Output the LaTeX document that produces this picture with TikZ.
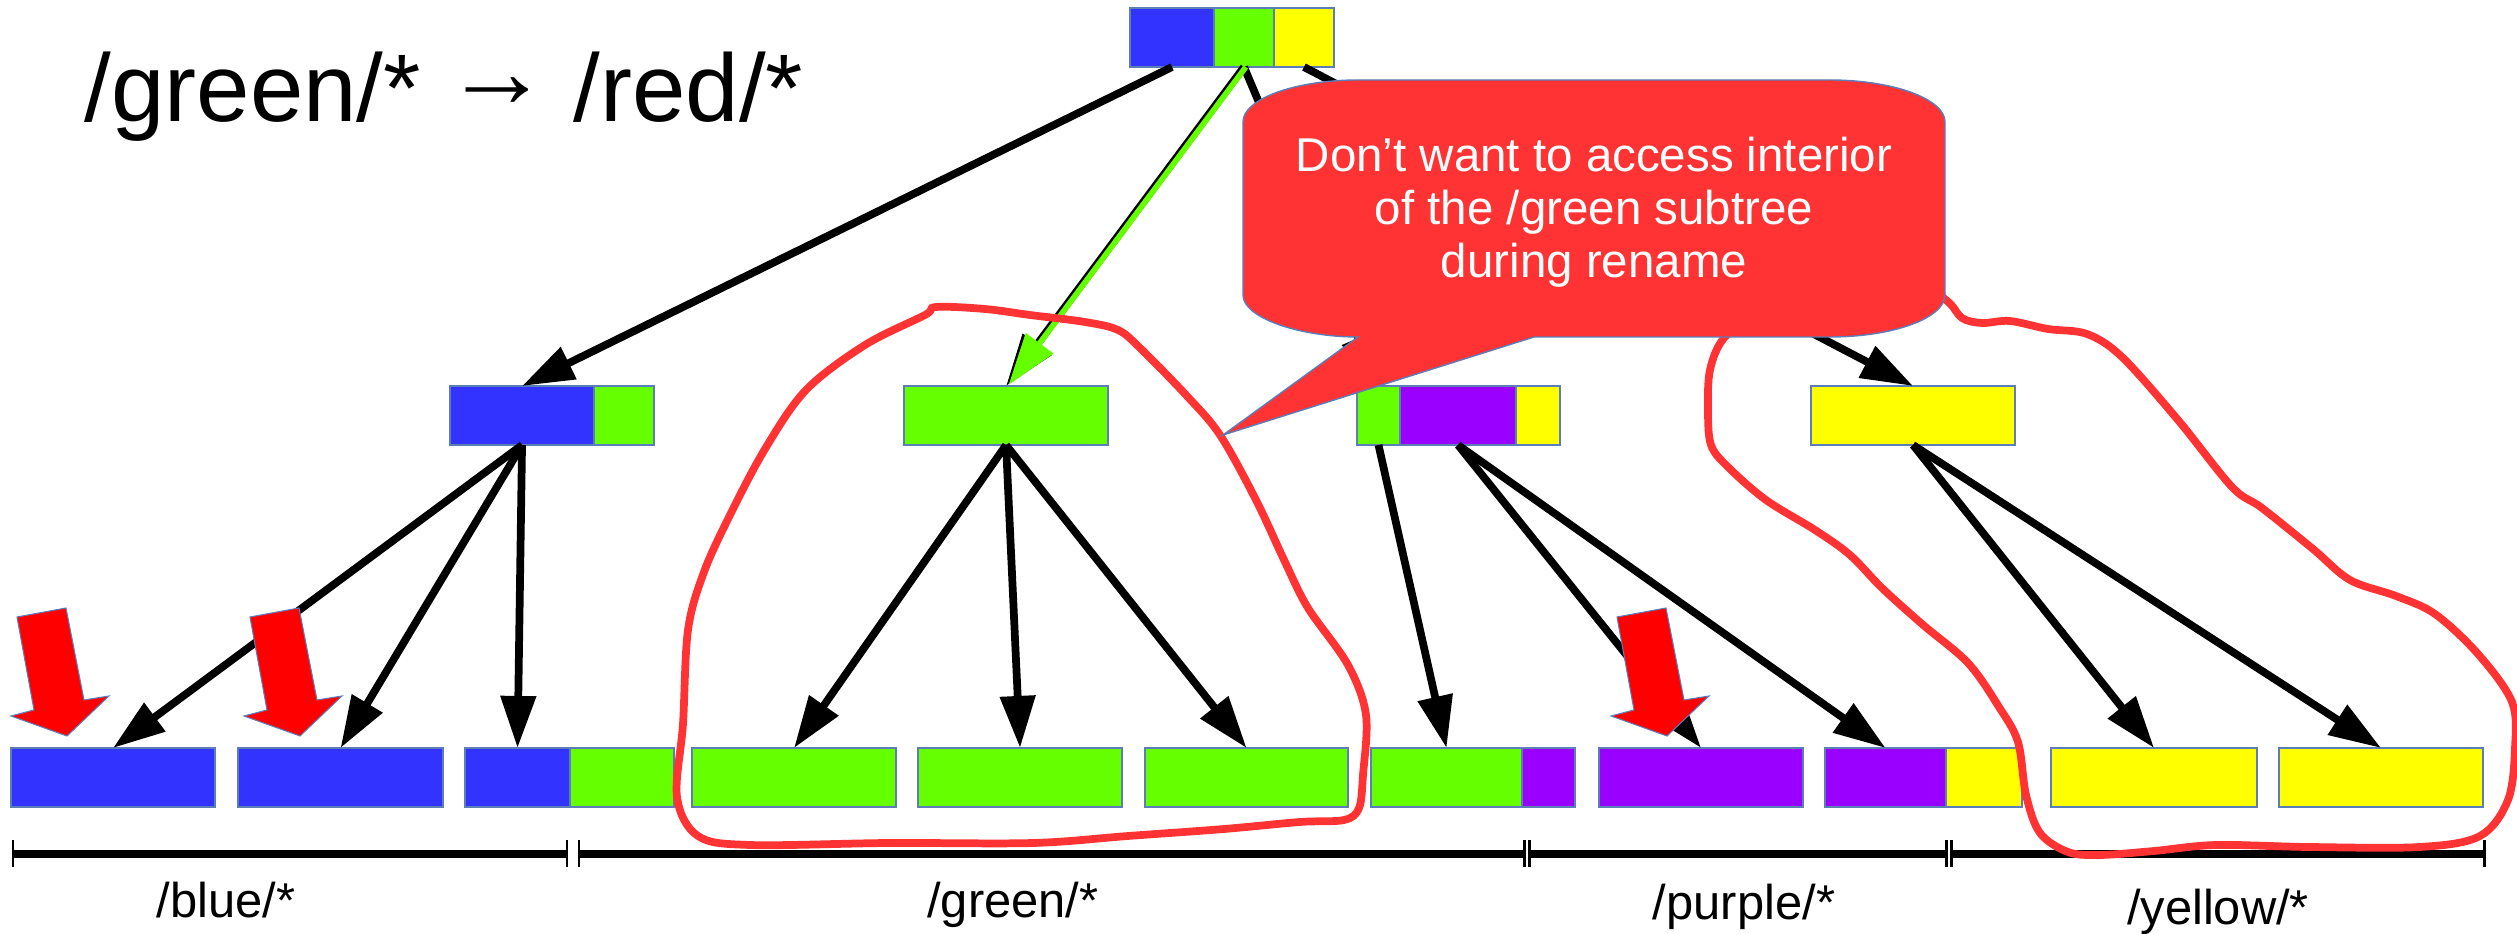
\documentclass[tikz,border=0pt]{standalone}
\usepackage{fontspec}
\setmainfont{Liberation Sans}
\usetikzlibrary{arrows.meta}

\definecolor{nblue}{HTML}{3333FF}
\definecolor{ngreen}{HTML}{66FF00}
\definecolor{nyellow}{HTML}{FFFF00}
\definecolor{npurple}{HTML}{9900FF}
\definecolor{calloutred}{HTML}{FF3333}
\definecolor{blockred}{HTML}{FF0000}
\definecolor{edge}{HTML}{5B7DB8}

% one coloured block of a node: name, colour, left x, right x, top y
\newcommand\segnode[5]{%
  \node[segbox, fill=#2, minimum width={(#4-#3)*0.284528pt}, anchor=north west] (#1) at (#3,#5) {};}

% dimension line with end ticks: left x, right x
\newcommand\rangeline[2]{%
  \draw[rangebar] (#1,854) -- (#2,854);
  \draw[rangetick] (#1,840) -- (#1,867);
  \draw[rangetick] (#2,840) -- (#2,867);}

\begin{document}
\begin{tikzpicture}[x=0.01cm, y=-0.01cm,
  segbox/.style={draw=edge, line width=0.4pt, inner sep=0pt, outer sep=0pt, minimum height=16.79pt},
  conn/.style={draw=black, line width=2.2pt, -{Triangle[length=14.8pt, width=9.7pt]}},
  greenconn/.style={draw=ngreen, line width=1.6pt, -{Triangle[length=14.8pt, width=9.4pt, fill=ngreen]}},
  outline/.style={draw=calloutred, line width=2.2pt},
  blockarrow/.style={fill=blockred, draw=edge, line width=0.3pt, line join=miter},
  rangebar/.style={line width=2.2pt},
  rangetick/.style={line width=0.85pt},
  lbl/.style={inner sep=0pt, anchor=base, font=\fontsize{13.9pt}{16pt}\selectfont},
  calltext/.style={inner sep=0pt, anchor=base, text=white, font=\fontsize{13.5pt}{15pt}\selectfont}]

\useasboundingbox (0,0) rectangle (2517,934);

% title
\node[inner sep=0pt, anchor=base west, font=\fontsize{27.3pt}{32pt}\selectfont] (title) at (84,122) {/green/*};
\node[inner sep=0pt, font=\fontsize{30pt}{34pt}\selectfont] (titlearrow) at (497,93) {→};
\node[inner sep=0pt, anchor=base west, font=\fontsize{27.3pt}{32pt}\selectfont] (titleright) at (573,122) {/red/*};

% root
\segnode{root-b}{nblue}{1130}{1214}{8}
\segnode{root-g}{ngreen}{1214}{1274}{8}
\segnode{root-y}{nyellow}{1274}{1334}{8}

% second level
\segnode{A-b}{nblue}{450}{594}{386}
\segnode{A-g}{ngreen}{594}{654}{386}
\segnode{B}{ngreen}{904}{1108}{386}
\segnode{C-g}{ngreen}{1357}{1400}{386}
\segnode{C-p}{npurple}{1400}{1516}{386}
\segnode{C-y}{nyellow}{1516}{1560}{386}
\segnode{D}{nyellow}{1811}{2015}{386}

% leaves
\segnode{L1}{nblue}{11}{215}{748}
\segnode{L2}{nblue}{238}{443}{748}
\segnode{L3-b}{nblue}{465}{570}{748}
\segnode{L3-g}{ngreen}{570}{674}{748}
\segnode{L4}{ngreen}{692}{896}{748}
\segnode{L5}{ngreen}{918}{1122}{748}
\segnode{L6}{ngreen}{1145}{1348}{748}
\segnode{L7-g}{ngreen}{1371}{1522}{748}
\segnode{L7-p}{npurple}{1522}{1575}{748}
\segnode{L8}{npurple}{1599}{1803}{748}
\segnode{L9-p}{npurple}{1825}{1946}{748}
\segnode{L9-y}{nyellow}{1946}{2022}{748}
\segnode{L10}{nyellow}{2051}{2257}{748}
\segnode{L11}{nyellow}{2279}{2483}{748}

% child pointers
\draw[conn] (root-b.south) -- (A-b.north);
\draw[conn] (root-g.south) -- (B.north);
\draw[conn] (root-g.south) -- (C-g.north);
\draw[conn] (root-y.south) -- (D.north);
\draw[greenconn] ([xshift=0.5pt]root-g.south) -- ([xshift=0.7pt,yshift=0.3pt]B.north);

\draw[conn] (A-b.south) -- (L1.north);
\draw[conn] (A-b.south) -- (L2.north);
\draw[conn] (A-b.south) -- (L3-b.north);

\draw[conn] (B.south) -- (L4.north);
\draw[conn] (B.south) -- (L5.north);
\draw[conn] (B.south) -- (L6.north);

\draw[conn] (C-g.south) -- (L7-g.north);
\draw[conn] (C-p.south) -- (L8.north);
\draw[conn] (C-p.south) -- (L9-p.north);

\draw[conn] (D.south) -- (L10.north);
\draw[conn] (D.south) -- (L11.north);

% key ranges
\rangeline{13}{567}
\rangeline{579}{1524}
\rangeline{1529}{1946}
\rangeline{1951}{2484}

\node[lbl] (lblblue) at (226,918) {/blue/*};
\node[lbl] (lblgreen) at (1013,918) {/green/*};
\node[lbl] (lblpurple) at (1744,920) {/purple/*};
\node[lbl] (lblyellow) at (2218,925) {/yellow/*};

% hand-drawn outlines around the /green and /yellow subtrees
\draw[outline] plot[smooth cycle, tension=0.55] coordinates {
  (936,307) (985,309) (1030,315) (1085,322) (1118,330) (1140,348) (1186,395)
  (1220,435) (1256,500) (1285,562) (1308,608) (1348,665) (1366,715) (1363,775)
  (1359,808) (1344,820) (1300,822) (1224,829) (1128,836) (1033,843) (889,843)
  (750,845) (698,836) (677,797) (683,724) (688,630) (704,572) (730,515)
  (765,449) (806,390) (865,345) (925,315)};

\draw[outline] plot[smooth cycle, tension=0.55] coordinates {
  (1760,310) (1724,338) (1710,370) (1708,410) (1711,445) (1728,467) (1766,500)
  (1815,530) (1850,555) (1882,588) (1922,624) (1968,663) (1999,707) (2018,742)
  (2026,795) (2040,833) (2068,852) (2100,855) (2154,851) (2216,845) (2309,847)
  (2420,847) (2480,836) (2508,800) (2515,748) (2512,702) (2478,654) (2435,614)
  (2396,596) (2350,580) (2313,549) (2262,508) (2232,487) (2178,420) (2122,357)
  (2087,334) (2048,329) (2010,321) (1982,323) (1962,318) (1946,300) (1900,270)
  (1800,270)};

% speech bubble
\path[fill=calloutred, draw=edge, line width=0.4pt]
  (1358,80) -- (1830,80)
  .. controls (1893,80) and (1945,99) .. (1945,122)
  -- (1945,295)
  .. controls (1945,318) and (1893,337) .. (1830,337)
  -- (1534,337) -- (1223,435) -- (1358,337)
  .. controls (1300,337) and (1243,318) .. (1243,295)
  -- (1243,122)
  .. controls (1243,99) and (1295,80) .. (1358,80) -- cycle;
\node[calltext] (note1) at (1594,172) {Don’t want to access interior};
\node[calltext] (note2) at (1594,225) {of the /green subtree};
\node[calltext] (note3) at (1594,278) {during rename};

% red block arrows marking the touched leaves
\foreach \dx in {0,233,1600} {
  \begin{scope}[xshift=\dx*0.01cm]
    \path[blockarrow] (17,617) -- (66,608) -- (84,700) -- (109,696)
      -- (67,736) -- (11,716) -- (34,710) -- cycle;
  \end{scope}
}
\end{tikzpicture}
\end{document}
